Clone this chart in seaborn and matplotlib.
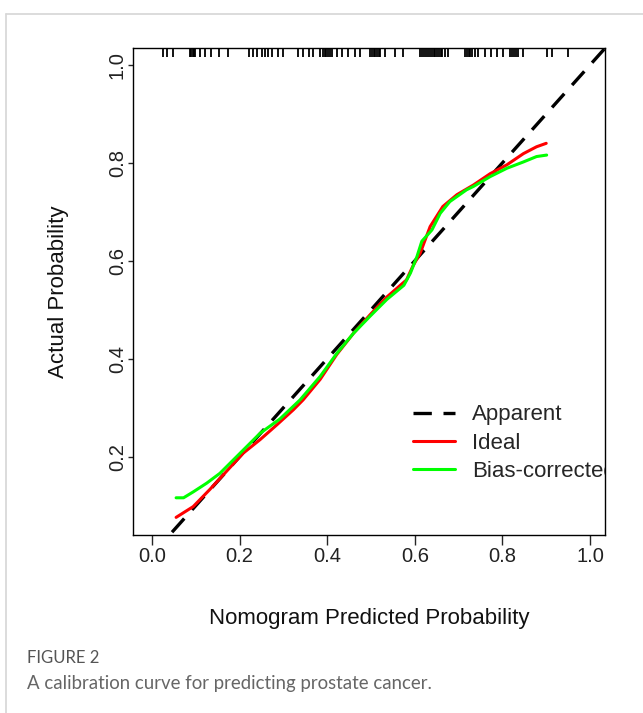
import matplotlib
matplotlib.use("Agg")
import matplotlib.pyplot as plt
import seaborn as sns
from matplotlib.lines import Line2D


# predicted probabilities shown as the rug along the top
rug_x = [0.024, 0.035, 0.047, 0.087, 0.090, 0.093, 0.096, 0.098, 0.110, 0.121, 0.135, 0.153, 0.174,
         0.221, 0.231, 0.240, 0.251, 0.258, 0.265, 0.274, 0.288, 0.299,
         0.333, 0.345, 0.358, 0.368, 0.384, 0.390, 0.394, 0.398, 0.402, 0.406, 0.411,
         0.422, 0.434, 0.447, 0.463, 0.475, 0.498, 0.502, 0.506, 0.510, 0.514, 0.518, 0.521,
         0.532, 0.555, 0.573, 0.612, 0.616, 0.620, 0.625, 0.630, 0.635, 0.639, 0.643, 0.647,
         0.651, 0.655, 0.659, 0.662, 0.669, 0.676, 0.715, 0.719, 0.723, 0.727, 0.731, 0.737,
         0.744, 0.760, 0.774, 0.788, 0.801, 0.817, 0.821, 0.826, 0.831, 0.836, 0.847,
         0.902, 0.913, 0.950]

# Apparent (diagonal reference)
diag_x = [0.0, 1.05]
diag_y = [0.0, 1.05]

# Ideal (red)
red_x = [0.055, 0.094, 0.132, 0.170, 0.208, 0.247, 0.285, 0.323, 0.345, 0.384, 0.422, 0.460,
         0.498, 0.536, 0.581, 0.596, 0.612, 0.635, 0.664, 0.696, 0.734, 0.772, 0.810, 0.848,
         0.878, 0.900]
red_y = [0.076, 0.098, 0.133, 0.170, 0.207, 0.235, 0.265, 0.296, 0.316, 0.358, 0.409, 0.452,
         0.490, 0.526, 0.561, 0.590, 0.615, 0.670, 0.711, 0.735, 0.755, 0.778, 0.796, 0.819,
         0.833, 0.840]

# Bias-corrected (green)
green_x = [0.055, 0.072, 0.094, 0.125, 0.155, 0.201, 0.247, 0.292, 0.338, 0.384, 0.422, 0.460,
           0.498, 0.536, 0.575, 0.590, 0.605, 0.616, 0.639, 0.658, 0.680, 0.718, 0.734, 0.772,
           0.810, 0.848, 0.878, 0.901]
green_y = [0.116, 0.116, 0.128, 0.146, 0.166, 0.207, 0.248, 0.277, 0.316, 0.364, 0.411, 0.452,
           0.487, 0.521, 0.550, 0.575, 0.609, 0.640, 0.663, 0.697, 0.721, 0.745, 0.752, 0.772,
           0.789, 0.802, 0.813, 0.816]

x_ticks = [0.0, 0.2, 0.4, 0.6, 0.8, 1.0]
y_ticks = [0.2, 0.4, 0.6, 0.8, 1.0]

sns.set_style("white")
plt.rcParams['font.family'] = ['Liberation Sans', 'DejaVu Sans']

fig = plt.figure(figsize=(6.43, 7.13), dpi=100)
ax = fig.add_axes([133 / 643, 1 - 535 / 713, 472 / 643, 487 / 713])

sns.lineplot(x=diag_x, y=diag_y, ax=ax, color='black', lw=2.4, linestyle=(0, (5.5, 3.5)),
             label='Apparent', sort=False, estimator=None)
sns.lineplot(x=red_x, y=red_y, ax=ax, color='#ff0000', lw=2.2,
             label='Ideal', sort=False, estimator=None)
sns.lineplot(x=green_x, y=green_y, ax=ax, color='#00ff00', lw=2.2,
             label='Bias-corrected', sort=False, estimator=None)

ax.vlines(rug_x, 1 - 0.018, 1, transform=ax.get_xaxis_transform(), color='black', lw=1.3)

ax.set_xlim(-0.0434, 1.0342)
ax.set_ylim(0.040, 1.0347)

for s in ax.spines.values():
    s.set_color('black')
    s.set_linewidth(1.0)

ax.set_xticks(x_ticks)
ax.set_xticklabels([f'{t:.1f}' for t in x_ticks], fontsize=14.5, color='#222222')
ax.set_yticks(y_ticks)
ax.set_yticklabels([f'{t:.1f}' for t in y_ticks], fontsize=14.5, rotation=90, va='center',
                   color='#222222')
ax.tick_params(axis='x', bottom=True, direction='out', length=7, width=1, pad=2)
ax.tick_params(axis='y', left=True, direction='out', length=3.5, width=1, pad=1)

ax.set_xlabel('Nomogram Predicted Probability', fontsize=16, labelpad=30, color='#111111')
ax.set_ylabel('Actual Probability', fontsize=16, labelpad=28, color='#111111')

leg = ax.legend(loc='upper left', bbox_to_anchor=(0.593, 0.268), frameon=False, fontsize=16,
                handlelength=1.9, handletextpad=0.75, labelspacing=0.33, borderpad=0,
                borderaxespad=0)
for t in leg.get_texts():
    t.set_clip_box(ax.bbox)
    t.set_clip_on(True)

# page frame lines
fig.add_artist(Line2D([6 / 643, 1], [1 - 14 / 713, 1 - 14 / 713], transform=fig.transFigure,
                      color='#d6d6d6', lw=1.2))
fig.add_artist(Line2D([6 / 643, 6 / 643], [0, 1 - 14 / 713], transform=fig.transFigure,
                      color='#d6d6d6', lw=1.2))

fig.text(27 / 643, 1 - 658 / 713, 'FIGURE 2', fontsize=12, color='#555555',
         family=['Lato', 'DejaVu Sans'], va='center', ha='left')
fig.text(27 / 643, 1 - 684 / 713, 'A calibration curve for predicting prostate cancer.',
         fontsize=13.4, color='#666666', family=['Lato', 'DejaVu Sans'], va='center', ha='left')

fig.savefig('out.png', dpi=100)
